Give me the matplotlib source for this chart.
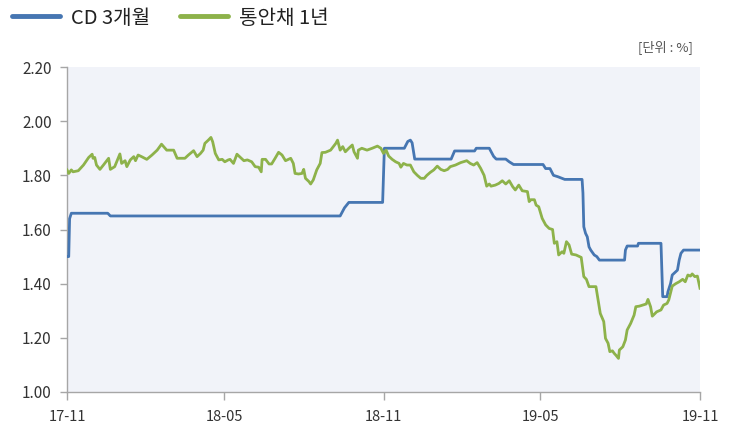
import matplotlib
matplotlib.use("Agg")
import matplotlib.pyplot as plt
from matplotlib.lines import Line2D
import pandas as pd

plt.rcParams['font.family'] = ['Noto Sans CJK KR', 'DejaVu Sans']

base_date = "2017-11-01"

# CD 3-month rate: days since base date, value (%)
cd_days = [0, 2, 3, 5, 47, 50, 315, 320, 325, 364, 366, 389, 393, 396, 398, 401,
           443, 447, 470, 472, 487, 492, 495, 506, 510, 515, 549, 552, 557, 561,
           566, 574, 594, 595, 596, 598, 600, 602, 604, 608, 611, 614, 643, 644,
           646, 658, 659, 685, 687, 692, 693, 696, 698, 700, 704, 706, 708, 711, 729]
cd_vals = [1.50, 1.50, 1.64, 1.66, 1.66, 1.65, 1.65, 1.68, 1.70, 1.70, 1.90, 1.90,
           1.925, 1.93, 1.92, 1.86, 1.86, 1.89, 1.89, 1.90, 1.90, 1.87, 1.86, 1.86,
           1.85, 1.84, 1.84, 1.825, 1.825, 1.80, 1.795, 1.785, 1.785, 1.735, 1.61,
           1.586, 1.573, 1.536, 1.524, 1.506, 1.50, 1.487, 1.487, 1.524, 1.539,
           1.539, 1.549, 1.549, 1.352, 1.352, 1.37, 1.40, 1.432, 1.438, 1.45,
           1.487, 1.512, 1.524, 1.524]

# MSB 1-year yield: days since base date, value (%)
msb_days = [0, 2, 5, 7, 13, 19, 25, 29, 30, 32, 34, 38, 42, 48, 50, 55, 59, 61, 63,
            67, 69, 73, 77, 79, 82, 86, 92, 98, 104, 109, 115, 123, 127, 131, 136,
            140, 146, 150, 154, 157, 159, 163, 166, 168, 171, 175, 179, 182, 186,
            188, 192, 196, 200, 204, 208, 213, 217, 221, 224, 225, 229, 233, 236,
            240, 244, 248, 252, 258, 261, 263, 267, 271, 273, 275, 279, 281, 284,
            288, 292, 294, 298, 304, 310, 312, 315, 318, 321, 325, 329, 331, 335,
            336, 340, 346, 352, 358, 362, 365, 368, 371, 375, 379, 383, 385, 388,
            392, 396, 400, 404, 408, 412, 415, 419, 423, 427, 431, 435, 439, 442,
            448, 454, 461, 465, 469, 473, 477, 481, 484, 487, 489, 494, 498, 502,
            506, 510, 514, 517, 521, 525, 531, 533, 535, 539, 541, 544, 548, 552,
            556, 560, 562, 565, 567, 571, 573, 576, 579, 582, 587, 593, 596, 599,
            602, 610, 615, 619, 621, 624, 626, 629, 631, 633, 636, 637, 641, 644,
            646, 650, 654, 656, 660, 664, 668, 670, 673, 675, 680, 685, 688, 692,
            694, 698, 702, 706, 710, 713, 716, 719, 721, 724, 727, 730]
msb_vals = [1.82, 1.807, 1.82, 1.813, 1.817, 1.838, 1.866, 1.878, 1.863, 1.866,
            1.838, 1.822, 1.838, 1.863, 1.822, 1.832, 1.863, 1.879, 1.844, 1.854,
            1.832, 1.857, 1.869, 1.854, 1.875, 1.869, 1.859, 1.875, 1.893, 1.915,
            1.893, 1.893, 1.863, 1.863, 1.863, 1.875, 1.891, 1.869, 1.881, 1.893,
            1.918, 1.93, 1.94, 1.924, 1.881, 1.857, 1.859, 1.85, 1.857, 1.859,
            1.844, 1.878, 1.866, 1.854, 1.857, 1.85, 1.832, 1.83, 1.813, 1.859,
            1.859, 1.842, 1.842, 1.863, 1.885, 1.875, 1.854, 1.863, 1.844, 1.807,
            1.805, 1.807, 1.822, 1.789, 1.777, 1.768, 1.783, 1.82, 1.844, 1.884,
            1.885, 1.893, 1.918, 1.93, 1.893, 1.906, 1.887, 1.90, 1.912, 1.887,
            1.863, 1.893, 1.90, 1.893, 1.90, 1.908, 1.90, 1.881, 1.893, 1.871,
            1.859, 1.85, 1.844, 1.83, 1.844, 1.838, 1.838, 1.813, 1.80, 1.789,
            1.789, 1.80, 1.811, 1.82, 1.834, 1.822, 1.817, 1.822, 1.832, 1.838,
            1.847, 1.854, 1.844, 1.838, 1.847, 1.826, 1.80, 1.76, 1.768, 1.76,
            1.764, 1.77, 1.78, 1.768, 1.78, 1.758, 1.746, 1.764, 1.743, 1.74,
            1.703, 1.71, 1.71, 1.69, 1.684, 1.641, 1.617, 1.604, 1.60, 1.549,
            1.555, 1.506, 1.518, 1.512, 1.555, 1.543, 1.509, 1.506, 1.497, 1.426,
            1.416, 1.389, 1.389, 1.29, 1.26, 1.198, 1.18, 1.149, 1.152, 1.143,
            1.136, 1.124, 1.155, 1.167, 1.192, 1.229, 1.253, 1.284, 1.315, 1.317,
            1.321, 1.325, 1.342, 1.315, 1.28, 1.296, 1.303, 1.321, 1.327, 1.34,
            1.391, 1.40, 1.407, 1.416, 1.407, 1.432, 1.428, 1.436, 1.426, 1.428,
            1.383]

series_labels = ["CD 3개월", "통안채 1년"]
y_ticks = [1.00, 1.20, 1.40, 1.60, 1.80, 2.00, 2.20]
x_tick_dates = ["2017-11-01", "2018-05-01", "2018-11-01", "2019-05-01", "2019-11-01"]
x_tick_labels = ["17-11", "18-05", "18-11", "19-05", "19-11"]
unit_label = "[단위 : %]"

BLUE = "#4676b2"
GREEN = "#8db24a"

base = pd.Timestamp(base_date)
cd_x = base + pd.to_timedelta(cd_days, unit="D")
msb_x = base + pd.to_timedelta(msb_days, unit="D")

fig = plt.figure(figsize=(7.29, 4.32), dpi=100)
ax = fig.add_axes([67/729, 1-392/432, (700-67)/729, (392-67)/432])
ax.set_facecolor("#f1f3f9")

ax.plot(cd_x, cd_vals, color=BLUE, lw=2.0, solid_joinstyle="round", zorder=3)
ax.plot(msb_x, msb_vals, color=GREEN, lw=2.0, solid_joinstyle="round", zorder=3)

ax.set_ylim(1.00, 2.20)
ax.set_xlim(pd.Timestamp(x_tick_dates[0]), pd.Timestamp(x_tick_dates[-1]))
ax.set_yticks(y_ticks)
ax.set_yticklabels([f"{v:.2f}" for v in y_ticks])
ax.set_xticks([pd.Timestamp(d) for d in x_tick_dates])
ax.set_xticklabels(x_tick_labels)

for s in ["top", "right"]:
    ax.spines[s].set_visible(False)
for s in ["left", "bottom"]:
    ax.spines[s].set_color("#a6a6a6")
    ax.spines[s].set_linewidth(1.0)
ax.tick_params(axis="y", direction="out", length=5, width=1, color="#a6a6a6",
               labelsize=11, labelcolor="#333333", pad=6)
ax.tick_params(axis="x", direction="out", length=6, width=1, color="#a6a6a6",
               labelsize=10.5, labelcolor="#333333", pad=7)

fig.text(693/729, 1-47/432, unit_label, ha="right", va="center",
         fontsize=9.5, color="#555555")

handles = [Line2D([0], [0], color=BLUE, lw=3.5, solid_capstyle="round"),
           Line2D([0], [0], color=GREEN, lw=3.5, solid_capstyle="round")]
fig.legend(handles, series_labels, loc="center left",
           bbox_to_anchor=(4/729, 1-18/432), ncol=2, frameon=False,
           fontsize=14.5, handlelength=2.4, handletextpad=0.55, columnspacing=1.45,
           borderaxespad=0, labelcolor="#222222")

fig.savefig("out.png", dpi=100, facecolor="white")
